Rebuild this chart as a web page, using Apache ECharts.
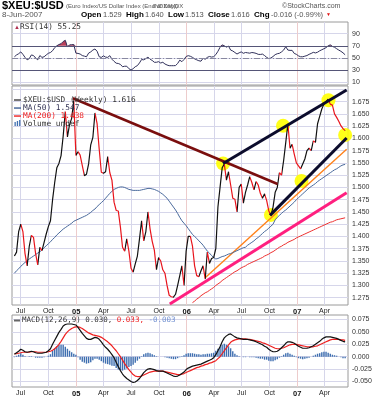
<!DOCTYPE html>
<html><head><meta charset="utf-8">
<script src="https://cdn.jsdelivr.net/npm/echarts@6/dist/echarts.min.js"></script>
<style>html,body{margin:0;padding:0;background:#fff}#c{width:385px;height:400px}</style>
</head><body><div id="c"></div>
<script>
// ---------- data (weekly closes, first week = Fri 11-Jun-2004) ----------
const firstWeek = [2004, 5, 11];
const price = [
1.360,1.368,1.410,1.425,1.410,1.365,1.340,1.380,1.402,1.398,
1.365,1.342,1.378,1.371,1.388,1.405,1.420,1.432,1.475,1.510,
1.540,1.549,1.565,1.605,1.655,1.603,1.628,1.641,1.678,1.565,
1.573,1.566,1.545,1.524,1.527,1.548,1.587,1.602,1.652,1.630,
1.578,1.531,1.529,1.532,1.563,1.530,1.515,1.470,1.453,1.452,
1.419,1.378,1.370,1.395,1.370,1.335,1.327,1.344,1.360,1.395,
1.432,1.391,1.410,1.450,1.415,1.390,1.372,1.332,1.357,1.350,
1.332,1.325,1.300,1.280,1.277,1.276,1.282,1.300,1.320,1.340,
1.300,1.370,1.400,1.400,1.380,1.340,1.320,1.318,1.330,1.340,
1.313,1.368,1.345,1.355,1.357,1.375,1.460,1.500,1.540,1.548,
1.515,1.532,1.505,1.478,1.476,1.450,1.500,1.507,1.468,1.490,
1.505,1.522,1.510,1.495,1.512,1.505,1.488,1.478,1.487,1.473,
1.452,1.443,1.460,1.490,1.500,1.530,1.525,1.555,1.592,1.630,
1.580,1.588,1.568,1.550,1.544,1.538,1.548,1.558,1.575,1.580,
1.575,1.595,1.592,1.630,1.645,1.660,1.670,1.675,1.680,1.670,
1.668,1.650,1.643,1.635,1.626,1.620,1.616];
const ma50 = [
1.325,1.330,1.334,1.339,1.343,1.347,1.350,1.354,1.357,1.360,
1.363,1.366,1.369,1.372,1.377,1.381,1.385,1.389,1.394,1.398,
1.403,1.407,1.411,1.415,1.418,1.421,1.424,1.427,1.431,1.433,
1.435,1.437,1.439,1.441,1.443,1.446,1.449,1.453,1.456,1.461,
1.465,1.469,1.473,1.478,1.483,1.488,1.492,1.496,1.498,1.500,
1.501,1.501,1.500,1.498,1.496,1.495,1.494,1.494,1.494,1.494,
1.495,1.496,1.497,1.498,1.498,1.497,1.496,1.494,1.492,1.489,
1.486,1.482,1.478,1.472,1.466,1.460,1.454,1.447,1.439,1.432,
1.427,1.422,1.416,1.410,1.404,1.400,1.396,1.391,1.387,1.382,
1.376,1.370,1.366,1.361,1.357,1.354,1.355,1.357,1.359,1.360,
1.362,1.364,1.365,1.367,1.369,1.371,1.373,1.375,1.377,1.378,
1.382,1.385,1.388,1.391,1.395,1.398,1.402,1.406,1.410,1.413,
1.417,1.421,1.425,1.434,1.439,1.443,1.447,1.451,1.454,1.458,
1.462,1.466,1.470,1.475,1.479,1.483,1.487,1.491,1.495,1.499,
1.502,1.505,1.508,1.512,1.515,1.518,1.521,1.524,1.527,1.530,
1.533,1.536,1.538,1.541,1.544,1.546,1.547];
const ma200FirstWeek = 84;
const ma200 = [
1.265,1.268,1.272,1.275,1.279,1.282,1.285,1.287,1.290,1.293,
1.296,1.300,1.303,1.306,1.310,1.313,1.316,1.319,1.322,1.325,
1.328,1.330,1.333,1.336,1.338,1.340,1.343,1.345,1.347,1.349,
1.351,1.353,1.355,1.357,1.360,1.362,1.364,1.367,1.369,1.372,
1.375,1.378,1.380,1.383,1.385,1.388,1.390,1.392,1.394,1.397,
1.399,1.401,1.403,1.405,1.407,1.409,1.411,1.413,1.415,1.417,
1.419,1.421,1.423,1.425,1.427,1.429,1.430,1.432,1.434,1.435,
1.436,1.437,1.438];
const rsi = [
52,55,57,60,56,51,47,49,55,54,
50,47,54,51,52,55,57.7,59,62,67,
70,72,73.5,77,79,68,71.5,71.8,72,58,
57.5,56.5,54,53,52,58,60,63,64.8,61,
52,51,53.5,51.5,51,53.8,48,44.5,41.5,41,
39.5,35.7,36.5,36.5,32.5,30.3,32.5,35.7,37.5,42,
47.5,47,49,51.5,48,46,43,43,44,41.8,
43,40.2,38.5,37.4,37.4,37.4,37.6,41,46.5,44,
47.5,52.5,53.8,52.8,51,48.6,47,45.5,44.8,49.5,
48,51,52.5,51.5,52.2,55.5,61,67.5,71.5,70,
67.8,69.5,63,61.5,59,56.5,58.5,60,57.7,59,
58.5,57.9,59,58.5,57.6,56,55.8,56.4,54,51,
49,50,52.5,55.5,57,57.7,60,63,68.5,63,
62.5,62.5,57.5,56,53.5,52,52,53,54,56,
57.5,59.3,58.3,59.5,61.8,63.5,65.2,67,70,71.5,
69,67.6,65.2,63,61,58.5,55.25];
const macd = [
0.005,0.008,0.011,0.015,0.013,0.010,0.009,0.010,0.011,0.010,
0.008,0.007,0.007,0.007,0.008,0.009,0.012,0.016,0.025,0.033,
0.041,0.049,0.055,0.062,0.065,0.066,0.066,0.066,0.065,0.064,
0.059,0.053,0.047,0.042,0.037,0.035,0.035,0.037,0.039,0.038,
0.035,0.030,0.024,0.019,0.015,0.010,0.004,-0.002,-0.011,-0.020,
-0.028,-0.035,-0.040,-0.044,-0.047,-0.050,-0.052,-0.051,-0.048,-0.044,
-0.038,-0.032,-0.028,-0.025,-0.024,-0.025,-0.026,-0.028,-0.029,-0.029,
-0.029,-0.031,-0.033,-0.035,-0.037,-0.039,-0.040,-0.039,-0.037,-0.034,
-0.031,-0.026,-0.023,-0.021,-0.019,-0.018,-0.017,-0.016,-0.015,-0.013,
-0.011,-0.009,-0.007,-0.005,-0.002,0.004,0.012,0.020,0.030,0.038,
0.042,0.045,0.046,0.043,0.040,0.038,0.037,0.036,0.035,0.035,
0.035,0.034,0.033,0.032,0.030,0.028,0.026,0.024,0.021,0.019,
0.015,0.012,0.010,0.010,0.011,0.014,0.018,0.022,0.027,0.030,
0.030,0.029,0.027,0.024,0.021,0.019,0.017,0.017,0.017,0.018,
0.020,0.022,0.025,0.028,0.031,0.035,0.038,0.040,0.040,0.040,
0.039,0.038,0.037,0.035,0.033,0.031,0.030];
const signal = [
0.006,0.006,0.007,0.008,0.009,0.009,0.009,0.009,0.010,0.010,
0.010,0.009,0.009,0.009,0.009,0.009,0.010,0.011,0.013,0.016,
0.020,0.025,0.031,0.038,0.045,0.050,0.054,0.057,0.059,0.060,
0.060,0.059,0.057,0.054,0.051,0.048,0.046,0.044,0.043,0.042,
0.041,0.039,0.036,0.033,0.030,0.026,0.022,0.017,0.012,0.006,
0.000,-0.007,-0.014,-0.020,-0.026,-0.031,-0.036,-0.039,-0.040,-0.040,
-0.039,-0.037,-0.035,-0.033,-0.031,-0.030,-0.029,-0.029,-0.029,-0.029,
-0.029,-0.030,-0.031,-0.032,-0.033,-0.034,-0.035,-0.036,-0.036,-0.035,
-0.034,-0.032,-0.030,-0.028,-0.026,-0.024,-0.022,-0.021,-0.019,-0.018,
-0.016,-0.015,-0.013,-0.012,-0.010,-0.008,-0.004,0.000,0.006,0.012,
0.018,0.024,0.029,0.032,0.034,0.035,0.036,0.036,0.036,0.036,
0.035,0.035,0.034,0.033,0.032,0.031,0.030,0.028,0.027,0.025,
0.023,0.021,0.019,0.017,0.016,0.016,0.017,0.018,0.020,0.022,
0.024,0.025,0.025,0.025,0.024,0.023,0.022,0.021,0.020,0.020,
0.020,0.020,0.021,0.022,0.024,0.026,0.028,0.030,0.032,0.034,
0.035,0.035,0.035,0.035,0.034,0.034,0.033];
const hist = [
-0.001,0.002,0.004,0.007,0.004,0.001,0,0.001,0.001,0,
-0.002,-0.002,-0.002,-0.002,-0.001,0,0.002,0.005,0.012,0.017,
0.021,0.024,0.024,0.024,0.020,0.016,0.012,0.009,0.006,0.004,
-0.001,-0.006,-0.010,-0.012,-0.014,-0.013,-0.011,-0.007,-0.004,-0.004,
-0.006,-0.009,-0.012,-0.014,-0.015,-0.016,-0.018,-0.019,-0.023,-0.026,
-0.028,-0.028,-0.026,-0.024,-0.021,-0.019,-0.016,-0.012,-0.008,-0.004,
0.001,0.005,0.007,0.008,0.007,0.005,0.003,0.001,0,0,
0,-0.001,-0.002,-0.003,-0.004,-0.005,-0.005,-0.003,-0.001,0.001,
0.003,0.006,0.007,0.007,0.007,0.006,0.005,0.005,0.004,0.005,
0.005,0.006,0.006,0.007,0.008,0.012,0.016,0.020,0.024,0.026,
0.024,0.021,0.017,0.011,0.006,0.003,0.001,0,-0.001,-0.001,
0,-0.001,-0.001,-0.001,-0.002,-0.003,-0.004,-0.004,-0.006,-0.006,
-0.008,-0.009,-0.009,-0.007,-0.005,-0.002,0.001,0.004,0.007,0.008,
0.006,0.004,0.002,-0.001,-0.003,-0.004,-0.005,-0.004,-0.003,-0.002,
0,0.002,0.004,0.006,0.007,0.009,0.010,0.010,0.008,0.006,
0.004,0.003,0.002,0,-0.001,-0.003,-0.003];
const priceTicks = [1.275,1.300,1.325,1.350,1.375,1.400,1.425,1.450,1.475,1.500,1.525,1.550,1.575,1.600,1.625,1.650,1.675];
const priceGridTicks = [1.275,1.300,1.325,1.350,1.375,1.400,1.425,1.450,1.475,1.500,1.525,1.550,1.575,1.600,1.625,1.650,1.675,1.700];
const rsiTicks = [10,30,50,70,90];
const macdTicks = [-0.050,-0.025,0,0.025,0.050,0.075];
const quarterTicks = ['2004-07-01','2004-10-01','2005-01-01','2005-04-01','2005-07-01','2005-10-01','2006-01-01','2006-04-01','2006-07-01','2006-10-01','2007-01-01','2007-04-01'];
// annotation lines drawn on the price chart: [date, price]
const trendDown = [['2004-12-21',1.682],['2006-10-28',1.507]];
const trendUpper = [['2006-05-01',1.549],['2007-06-13',1.699]];
const trendLower = [['2006-10-03',1.443],['2007-06-13',1.601]];
const trendOrange = [['2006-03-02',1.315],['2007-06-13',1.578]];
const trendPink = [['2005-11-06',1.262],['2007-06-13',1.489]];
const circles = [['2006-05-01',1.549],['2006-10-06',1.444],['2006-11-15',1.626],['2007-01-15',1.513],['2007-04-14',1.678],['2007-06-08',1.607]];

// ---------- chart ----------
const ts = s => { const p = s.split('-').map(Number); return new Date(p[0], p[1] - 1, p[2]).getTime(); };
const conv = arr => arr.map(d => [ts(d[0]), d[1]]);
const t = price.map((_, i) => new Date(firstWeek[0], firstWeek[1], firstWeek[2] + 7 * i).getTime());
const qTicks = quarterTicks.map(ts);
const xMin = new Date(2004, 5, 3).getTime();
const xMax = new Date(2007, 5, 17, 12).getTime();
const FONT = 'Liberation Sans', MONO = 'DejaVu Sans Mono';
const GL = '#d6d6ea', YL = '#edcccc';
const months = ['Jan','Feb','Mar','Apr','May','Jun','Jul','Aug','Sep','Oct','Nov','Dec'];
const pair = arr => arr.map((v, i) => [t[i], v]);

// red where the close fell from the previous week
const pieces = [];
for (let i = 1; i < price.length; i++) {
  if (price[i] < price[i - 1]) {
    const last = pieces[pieces.length - 1];
    if (last && last.lte === t[i - 1]) last.lte = t[i];
    else pieces.push({ gte: t[i - 1], lte: t[i], color: '#e8141c' });
  }
}

function xAxisCfg(gi, showLabels) {
  return {
    type: 'value', gridIndex: gi, min: xMin, max: xMax,
    axisLine: { show: false },
    axisTick: { show: false, customValues: qTicks },
    axisLabel: {
      show: showLabels, customValues: qTicks, margin: 3, fontSize: 7, fontFamily: FONT, color: '#222',
      formatter: v => { const d = new Date(v); const m = d.getMonth(); return m === 0 ? '{y|' + String(d.getFullYear()).slice(2) + '}' : months[m]; },
      rich: { y: { fontWeight: 'bold', fontSize: 7.5, fontFamily: FONT, color: '#111' } }
    },
    splitLine: { show: true, lineStyle: { color: [GL, GL, YL, GL], width: 1 } }
  };
}
function yAxisCfg(gi, min, max, labels, grid, fmt) {
  return {
    type: 'value', gridIndex: gi, position: 'right', min, max,
    axisLine: { show: false },
    axisTick: { show: false, customValues: grid },
    axisLabel: { customValues: labels, formatter: fmt, fontSize: 7, fontFamily: FONT, color: '#333', margin: 4 },
    splitLine: { show: true, lineStyle: { color: GL, width: 1 } }
  };
}
const gridBase = { left: 12, right: 37, show: true, borderColor: '#9a9a9a', borderWidth: 1, backgroundColor: '#fff' };
const tx = (x, y, text, o) => ({ type: 'text', x, y, z: 100, silent: true, style: Object.assign({ text, fontSize: 7, fontFamily: FONT, fill: '#444', verticalAlign: 'middle' }, o || {}) });
const box = (x, y, w, h, fill) => ({ type: 'rect', z: 100, silent: true, shape: { x, y, width: w, height: h }, style: { fill } });
const B = { fontSize: 8, fontWeight: 'bold', fill: '#000' };
const V = { fontSize: 7.5, fill: '#555' };

const option = {
  animation: false,
  backgroundColor: '#fff',
  grid: [
    Object.assign({ top: 22, height: 63 }, gridBase),
    Object.assign({ top: 86, height: 219 }, gridBase),
    Object.assign({ top: 315, height: 72 }, gridBase)
  ],
  xAxis: [xAxisCfg(0, false), xAxisCfg(1, true), xAxisCfg(2, true)],
  yAxis: [
    yAxisCfg(0, 5.75, 109, rsiTicks, rsiTicks, v => String(v)),
    yAxisCfg(1, 1.2601, 1.707, priceTicks, priceGridTicks, v => v.toFixed(3)),
    yAxisCfg(2, -0.0611, 0.0841, macdTicks, macdTicks, v => v.toFixed(3))
  ],
  visualMap: [{ type: 'piecewise', show: false, seriesIndex: 7, dimension: 0, pieces, outOfRange: { color: '#111' } }],
  series: [
    { type: 'line', xAxisIndex: 0, yAxisIndex: 0, data: pair(rsi.map(v => Math.max(v, 70))), showSymbol: false, lineStyle: { width: 0 }, areaStyle: { color: '#b8405a', origin: 70, opacity: 1 }, z: 2 },
    { type: 'line', xAxisIndex: 0, yAxisIndex: 0, data: pair(rsi), showSymbol: false, lineStyle: { width: 1, color: '#30305a' }, z: 3,
      markLine: { silent: true, symbol: 'none', label: { show: false },
        data: [ { yAxis: 70, lineStyle: { color: '#555577', width: 1, type: 'solid' } },
                { yAxis: 30, lineStyle: { color: '#555577', width: 1, type: 'solid' } },
                { yAxis: 50, lineStyle: { color: '#8888a0', width: 1, type: [6, 2, 1, 2] } } ] } },
    { type: 'line', xAxisIndex: 1, yAxisIndex: 1, data: conv(trendPink), showSymbol: false, lineStyle: { width: 3, color: '#ff1f7f' }, z: 4 },
    { type: 'line', xAxisIndex: 1, yAxisIndex: 1, data: conv(trendOrange), showSymbol: false, lineStyle: { width: 1.4, color: '#ff8019' }, z: 4 },
    { type: 'line', xAxisIndex: 1, yAxisIndex: 1, data: ma200.map((v, i) => [t[i + ma200FirstWeek], v]), showSymbol: false, lineStyle: { width: 1, color: '#ee3030' }, z: 4 },
    { type: 'line', xAxisIndex: 1, yAxisIndex: 1, data: pair(ma50), showSymbol: false, lineStyle: { width: 1, color: '#4a6a9c' }, z: 4 },
    { type: 'scatter', xAxisIndex: 1, yAxisIndex: 1, data: conv(circles), symbolSize: 14, itemStyle: { color: '#ffff00', opacity: 0.9 }, z: 3 },
    { type: 'line', xAxisIndex: 1, yAxisIndex: 1, data: pair(price), showSymbol: false, lineStyle: { width: 1.2 }, z: 5 },
    { type: 'line', xAxisIndex: 1, yAxisIndex: 1, data: conv(trendDown), showSymbol: false, lineStyle: { width: 2.5, color: '#7a0e0e' }, z: 6 },
    { type: 'line', xAxisIndex: 1, yAxisIndex: 1, data: conv(trendUpper), showSymbol: false, lineStyle: { width: 3, color: '#0c0c2c' }, z: 6 },
    { type: 'line', xAxisIndex: 1, yAxisIndex: 1, data: conv(trendLower), showSymbol: false, lineStyle: { width: 3, color: '#0c0c2c' }, z: 6 },
    { type: 'bar', xAxisIndex: 2, yAxisIndex: 2, data: pair(hist), barWidth: 1.4, itemStyle: { color: '#3f6fb0' }, z: 2 },
    { type: 'line', xAxisIndex: 2, yAxisIndex: 2, data: pair(macd), showSymbol: false, lineStyle: { width: 1.2, color: '#111' }, z: 4 },
    { type: 'line', xAxisIndex: 2, yAxisIndex: 2, data: pair(signal), showSymbol: false, lineStyle: { width: 1.2, color: '#ee2020' }, z: 3 }
  ],
  graphic: [
    tx(2, 6, '$XEU:$USD', { fontSize: 11, fontWeight: 'bold', fill: '#000' }),
    tx(66, 6.5, '(Euro Index/US Dollar Index (End of Day))', { fontSize: 6, fill: '#555' }),
    tx(153, 6.5, 'INDX/INDX', { fontSize: 6, fill: '#555' }),
    tx(282, 6.5, '©StockCharts.com', { fontSize: 7, fill: '#555' }),
    tx(2, 15, '8-Jun-2007', { fontSize: 8, fill: '#555' }),
    tx(81, 15, 'Open', B), tx(103, 15, '1.529', V),
    tx(126, 15, 'High', B), tx(145, 15, '1.640', V),
    tx(168, 15, 'Low', B), tx(185, 15, '1.513', V),
    tx(208, 15, 'Close', B), tx(231, 15, '1.616', V),
    tx(254, 15, 'Chg', B), tx(271, 15, '-0.016 (-0.99%)', V),
    tx(326, 15, '▼', { fontSize: 5, fill: '#e01010' }),
    tx(14, 27.3, '▲', { fontSize: 6, fill: '#b03050' }),
    tx(20, 27.3, 'RSI(14) 55.25', { fontSize: 7.8, fontFamily: MONO, fill: '#333' }),
    box(14, 99, 7, 2, '#777'),
    tx(23, 100, '$XEU:$USD (Weekly) 1.616', { fontSize: 7.8, fontFamily: MONO, fill: '#333' }),
    box(14, 107.3, 7, 1.5, '#4a6a9c'),
    tx(23, 108, 'MA(50) 1.547', { fontSize: 7.8, fontFamily: MONO, fill: '#333355' }),
    box(14, 115.3, 7, 1.5, '#ee3030'),
    tx(23, 116, 'MA(200) 1.438', { fontSize: 7.8, fontFamily: MONO, fill: '#ee2020' }),
    box(14.5, 122, 1.3, 4, '#3f6fb0'), box(16.8, 121, 1.3, 5, '#3f6fb0'), box(19.1, 120, 1.3, 6, '#3f6fb0'),
    tx(23, 123.5, 'Volume undef', { fontSize: 7.8, fontFamily: MONO, fill: '#333' }),
    box(14, 319.5, 6, 2, '#666'),
    { type: 'text', x: 22, y: 320.5, z: 100, silent: true, style: { text: '{a|MACD(12,26,9) 0.030,}{r| 0.033,}{b| -0.003}', verticalAlign: 'middle',
      rich: { a: { fontSize: 7.5, fontFamily: MONO, fill: '#333' }, r: { fontSize: 7.5, fontFamily: MONO, fill: '#ee2020' }, b: { fontSize: 7.5, fontFamily: MONO, fill: '#6f8fd0' } } } }
  ]
};
const chart = echarts.init(document.getElementById('c'));
chart.setOption(option);
</script></body></html>
